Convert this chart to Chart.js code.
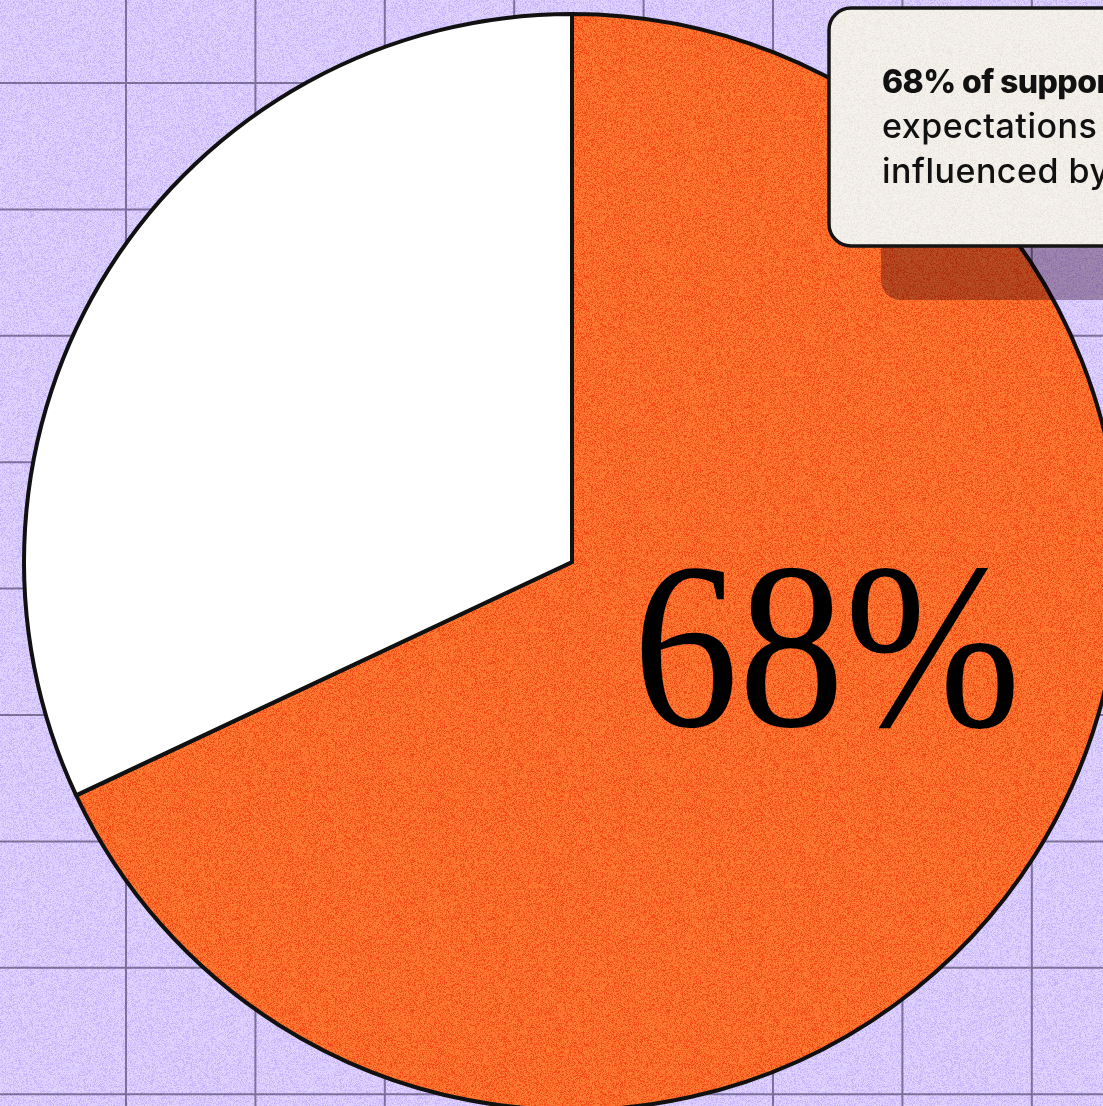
<!DOCTYPE html>
<html>
<head>
<meta charset="utf-8">
<script src="https://cdn.jsdelivr.net/npm/chart.js@4.4.1/dist/chart.umd.min.js"></script>
<style>
  html, body { margin: 0; padding: 0; overflow: hidden; background: #d9cafd; }
  #wrap { position: relative; width: 1103px; height: 1106px; }
</style>
</head>
<body>
<div id="wrap"><canvas id="sharePie" width="1103" height="1106"></canvas></div>
<script>
const labels = ['Influenced', 'Not influenced'];
const shares = [68, 32];
const calloutBold = ' of support leaders say';
const calloutRest = ['expectations are being', 'influenced by AI'];

// speckled fill, seeded so every render looks the same
function grain(base, speck, strength, seed) {
    const size = 256;
    const c = document.createElement('canvas');
    c.width = c.height = size;
    const g = c.getContext('2d');
    const img = g.createImageData(size, size);
    var s = seed;
    const rnd = () => { s = (s * 1664525 + 1013904223) >>> 0; return s / 4294967296; };
    for (var i = 0; i < size * size; i++) {
        var t = Math.min(1, Math.pow(rnd(), 2) * strength);
        img.data[i * 4] = base[0] + (speck[0] - base[0]) * t;
        img.data[i * 4 + 1] = base[1] + (speck[1] - base[1]) * t;
        img.data[i * 4 + 2] = base[2] + (speck[2] - base[2]) * t;
        img.data[i * 4 + 3] = 255;
    }
    g.putImageData(img, 0, 0);
    return document.getElementById('sharePie').getContext('2d').createPattern(c, 'repeat');
}

const ORANGE = grain([255, 126, 52], [242, 66, 20], 1.1, 7);
const LAVENDER = grain([225, 214, 255], [196, 176, 250], 1.1, 11);
const PAPER = grain([246, 243, 238], [232, 228, 220], 1.0, 3);

function roundRect(ctx, x, y, w, h, r) {
    ctx.beginPath();
    ctx.moveTo(x + r, y);
    ctx.lineTo(x + w - r, y);
    ctx.arcTo(x + w, y, x + w, y + r, r);
    ctx.lineTo(x + w, y + h - r);
    ctx.arcTo(x + w, y + h, x + w - r, y + h, r);
    ctx.lineTo(x + r, y + h);
    ctx.arcTo(x, y + h, x, y + h - r, r);
    ctx.lineTo(x, y + r);
    ctx.arcTo(x, y, x + r, y, r);
    ctx.closePath();
}

// lavender paper with a faint grid behind the pie
const gridBackdrop = {
    id: 'gridBackdrop',
    beforeDraw(chart) {
        const { ctx, width, height } = chart;
        ctx.save();
        ctx.fillStyle = LAVENDER;
        ctx.fillRect(0, 0, width, height);
        ctx.strokeStyle = 'rgba(50, 40, 75, 0.55)';
        ctx.lineWidth = 2;
        ctx.beginPath();
        for (var x = 126; x < width; x += 129.4) {
            ctx.moveTo(x, 0); ctx.lineTo(x, height);
        }
        for (var y = 83; y < height; y += 126.4) {
            ctx.moveTo(0, y); ctx.lineTo(width, y);
        }
        ctx.stroke();
        ctx.restore();
    }
};

// big percentage printed on the first slice
const sliceLabel = {
    id: 'sliceLabel',
    afterDatasetsDraw(chart) {
        const arc = chart.getDatasetMeta(0).data[0];
        const ctx = chart.ctx;
        ctx.save();
        ctx.fillStyle = '#000';
        ctx.font = '238px "Liberation Serif", serif';
        ctx.textAlign = 'center';
        ctx.textBaseline = 'alphabetic';
        const x = arc.x + arc.outerRadius * 0.465;
        const y = arc.y + arc.outerRadius * 0.30;
        ctx.translate(x, y);
        ctx.scale(0.89, 1);
        ctx.fillText(shares[0] + '%', 0, 0);
        ctx.restore();
    }
};

// callout card in the top right corner
const callout = {
    id: 'callout',
    afterDraw(chart) {
        const ctx = chart.ctx;
        ctx.save();
        ctx.globalCompositeOperation = 'multiply';
        ctx.fillStyle = '#b6a2ae';
        roundRect(ctx, 881, 60, 320, 240, 20);
        ctx.fill();
        ctx.globalCompositeOperation = 'source-over';

        roundRect(ctx, 829, 8, 380, 238, 22);
        ctx.fillStyle = PAPER;
        ctx.fill();
        ctx.lineWidth = 3.5;
        ctx.strokeStyle = '#141414';
        ctx.stroke();

        ctx.fillStyle = '#111';
        ctx.textAlign = 'left';
        ctx.textBaseline = 'alphabetic';
        ctx.letterSpacing = '-0.6px';
        ctx.font = '800 32px Inter, sans-serif';
        ctx.fillText(shares[0] + '%' + calloutBold, 882, 93);
        ctx.letterSpacing = '0.5px';
        ctx.font = '500 34px Inter, sans-serif';
        calloutRest.forEach((line, i) => ctx.fillText(line, 882, 138 + i * 45));
        ctx.restore();
    }
};

new Chart(document.getElementById('sharePie'), {
    type: 'pie',
    data: {
        labels: labels,
        datasets: [{
            data: shares,
            backgroundColor: [ORANGE, '#ffffff'],
            borderColor: '#111',
            borderWidth: 4,
            borderJoinStyle: 'miter'
        }]
    },
    options: {
        responsive: false,
        animation: false,
        events: [],
        radius: 548,
        layout: { padding: { left: 41, right: 0, top: 18, bottom: 0 } },
        plugins: {
            legend: { display: false },
            tooltip: { enabled: false }
        }
    },
    plugins: [gridBackdrop, sliceLabel, callout]
});
</script>
</body>
</html>
